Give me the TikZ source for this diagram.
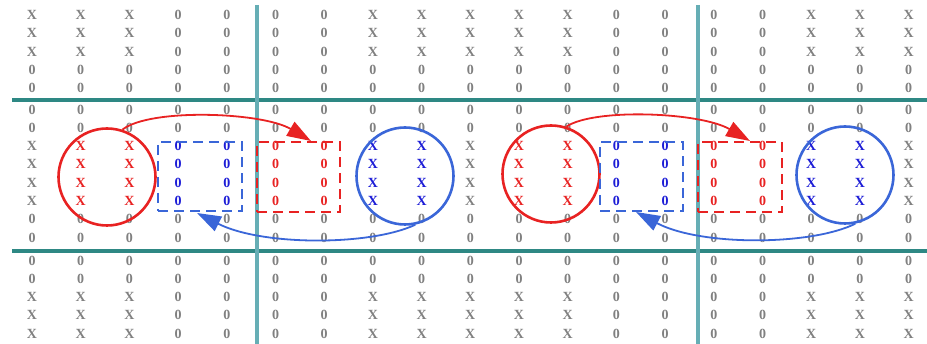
\documentclass[tikz,border=0pt]{standalone}
\usepackage{fontspec}
\newfontfamily\glyphfont{Liberation Serif}
\usetikzlibrary{arrows.meta}
\definecolor{gr}{HTML}{808080}
\definecolor{rd}{HTML}{E82222}
\definecolor{bl}{HTML}{1C1CD6}
\definecolor{cb}{HTML}{3A66D8}
\definecolor{hl}{HTML}{2E8884}
\definecolor{vl}{HTML}{66AEB5}
\begin{document}
\begin{tikzpicture}[x=1pt,y=-1pt,
  glyph/.style={inner sep=0pt,font=\glyphfont\bfseries\fontsize{14}{14}\selectfont},
  ring/.style={circle,line width=2.6pt,minimum size=97pt,inner sep=0pt},
  dbox/.style={rectangle,line width=2.6pt,dash pattern=on 10pt off 6pt,inner sep=0pt},
  hline/.style={draw=hl,line width=3.5pt},
  vline/.style={draw=vl,line width=4pt},
  arr/.style={line width=1.8pt,-{Triangle[length=24pt,width=16pt]}}]
\useasboundingbox (0,0) rectangle (927,344);
% grid lines
\coordinate (h1a) at (12,100); \coordinate (h1b) at (927,100);
\coordinate (h2a) at (12,251); \coordinate (h2b) at (927,251);
\coordinate (v1a) at (257,5); \coordinate (v1b) at (257,344);
\coordinate (v2a) at (698,5); \coordinate (v2b) at (698,344);
\draw[hline] (h1a) -- (h1b);
\draw[hline] (h2a) -- (h2b);
\draw[vline] (v1a) -- (v1b);
\draw[vline] (v2a) -- (v2b);
% glyph grid
\foreach \r/\y/\rx/\rm in {1/15/1/0,2/33/1/0,3/52/1/0,4/70/0/0,5/88/0/0,
  6/110/0/0,7/128/0/0,8/146/1/1,9/164/1/1,10/183/1/1,11/201/1/1,12/219/0/0,13/238/0/0,
  14/261/0/0,15/279/0/0,16/297/1/0,17/315/1/0,18/334/1/0}{
  \foreach \c in {0,...,18}{
    \pgfmathtruncatemacro\m{mod(\c,9)}
    \pgfmathtruncatemacro\gx{((\m<3) || (\m>6)) ? \rx : 0}
    \pgfmathtruncatemacro\cc{((\rm==1) && (\m>0)) ? ((mod(\m-1,4)<2) ? 1 : 2) : 0}
    \ifnum\gx=1 \def\gl{X}\else\def\gl{0}\fi
    \ifcase\cc \def\col{gr}\or\def\col{rd}\else\def\col{bl}\fi
    \node[glyph,text=\col] (g\c-\r) at ({32+48.7*\c},\y) {\gl};
  }
}
% circles and boxes
\node[ring,draw=rd] (rc1) at (107,177) {};
\node[ring,draw=cb] (bc1) at (405,176) {};
\node[ring,draw=rd] (rc2) at (551,174) {};
\node[ring,draw=cb] (bc2) at (845,175) {};
\node[dbox,draw=cb,minimum width=84pt,minimum height=69pt] (bb1) at (200,176.5) {};
\node[dbox,draw=rd,minimum width=83pt,minimum height=70pt] (rb1) at (298.5,177) {};
\node[dbox,draw=cb,minimum width=83pt,minimum height=69pt] (bb2) at (641.5,176.5) {};
\node[dbox,draw=rd,minimum width=84pt,minimum height=70pt] (rb2) at (740,177) {};
% arrows
\coordinate (rt1) at (311,141);
\coordinate (bt1) at (197,213);
\coordinate (rt2) at (750,141);
\coordinate (bt2) at (636,212);
\draw[arr,draw=rd] (rc1.72) .. controls (150,108) and (262,112) .. (rt1);
\draw[arr,draw=cb] (bc1.-78) .. controls (370,246) and (262,246) .. (bt1);
\draw[arr,draw=rd] (rc2.72) .. controls (594,108) and (700,112) .. (rt2);
\draw[arr,draw=cb] (bc2.-78) .. controls (810,246) and (700,246) .. (bt2);
\end{tikzpicture}
\end{document}
